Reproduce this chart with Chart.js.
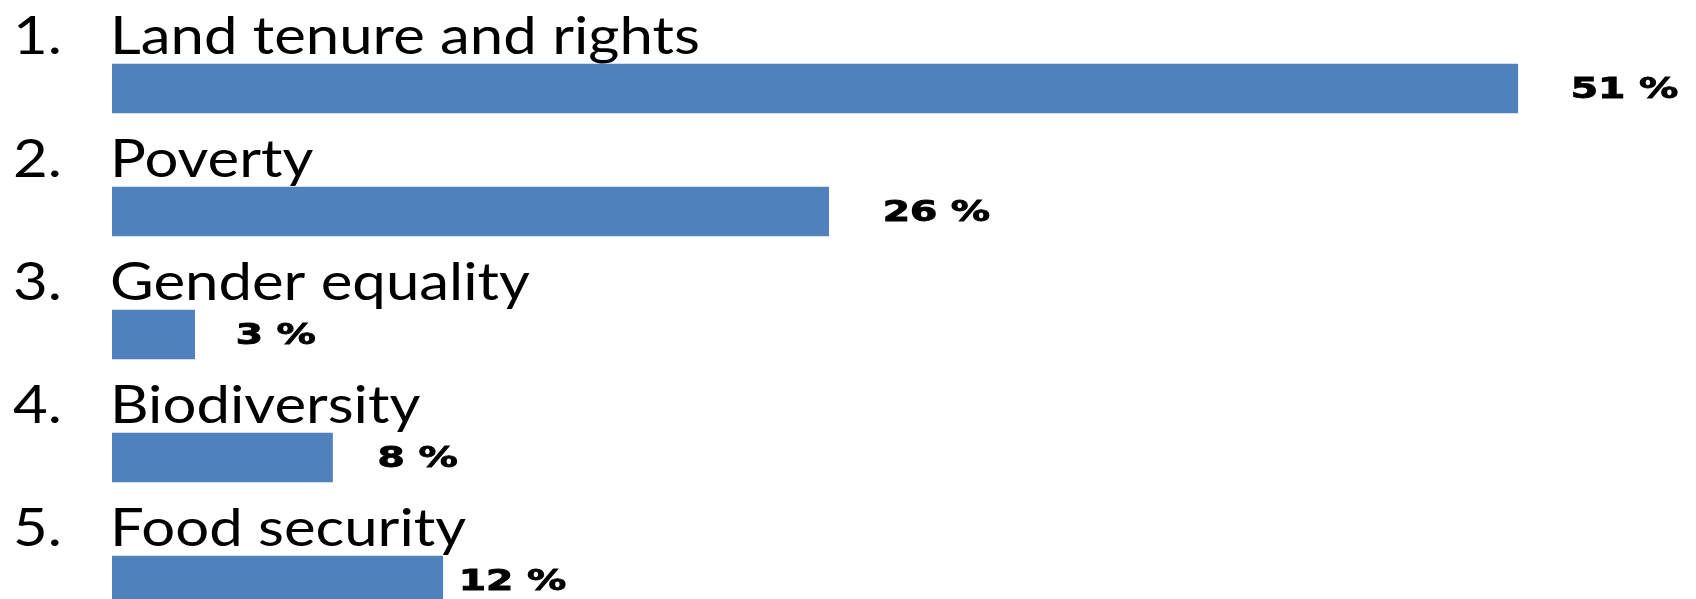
<!DOCTYPE html>
<html>
<head>
<meta charset="utf-8">
<script src="https://cdn.jsdelivr.net/npm/chart.js@4"></script>
<style>
  html, body { margin: 0; padding: 0; background: #fff; overflow: hidden; }
</style>
</head>
<body>
<canvas id="myChart" width="1696" height="660"></canvas>
<script>
// categories and shares (percent)
const ranks = ['1.', '2.', '3.', '4.', '5.']
const categories = ['Land tenure and rights', 'Poverty', 'Gender equality', 'Biodiversity', 'Food security']
const shares = [51, 26, 3, 8, 12]
const shareLabels = ['51 %', '26 %', '3 %', '8 %', '12 %']

// gap between bar end and its value label, in px
const labelGap = [53, 54, 41, 45, 16]

const canvas = document.getElementById('myChart')

// text drawn a bit wider than the font, like the picture
function wideText(ctx, text, x, y, sx, stroke) {
    ctx.save()
    ctx.translate(x, y)
    ctx.scale(sx, 1)
    ctx.fillText(text, 0, 0)
    if (stroke) ctx.strokeText(text, 0, 0)
    ctx.restore()
}

// titles above the bars and values to the right
const rowText = {
    id: 'rowText',
    afterDatasetsDraw(chart) {
        const ctx = chart.ctx
        const bars = chart.getDatasetMeta(0).data
        ctx.save()
        ctx.fillStyle = '#000'
        ctx.strokeStyle = '#000'
        ctx.lineWidth = 0.9
        ctx.textAlign = 'left'
        bars.forEach((bar, i) => {
            ctx.textBaseline = 'alphabetic'
            ctx.font = '53px Lato'
            wideText(ctx, ranks[i], 13, bar.y - 35, 1.13)
            wideText(ctx, categories[i], chart.chartArea.left - 2, bar.y - 35, 1.13)

            ctx.font = 'bold 28px "DejaVu Sans"'
            ctx.textBaseline = 'middle'
            wideText(ctx, shareLabels[i], bar.x + labelGap[i], bar.y + 2, 1.4, true)
        })
        ctx.restore()
    }
}

const config = {
    type: 'bar',
    data: {
        labels: categories,
        datasets: [{
            data: shares,
            backgroundColor: '#4F81BD',
            barThickness: 49
        }]
    },
    options: {
        indexAxis: 'y',
        responsive: false,
        animation: false,
        layout: {
            padding: { left: 112, right: 68, top: 27, bottom: 18 }
        },
        scales: {
            x: { min: 0, max: 55, display: false },
            y: { display: false }
        },
        plugins: {
            legend: { display: false },
            tooltip: { enabled: false }
        }
    },
    plugins: [rowText]
}

new Chart(canvas, config)
</script>
</body>
</html>
